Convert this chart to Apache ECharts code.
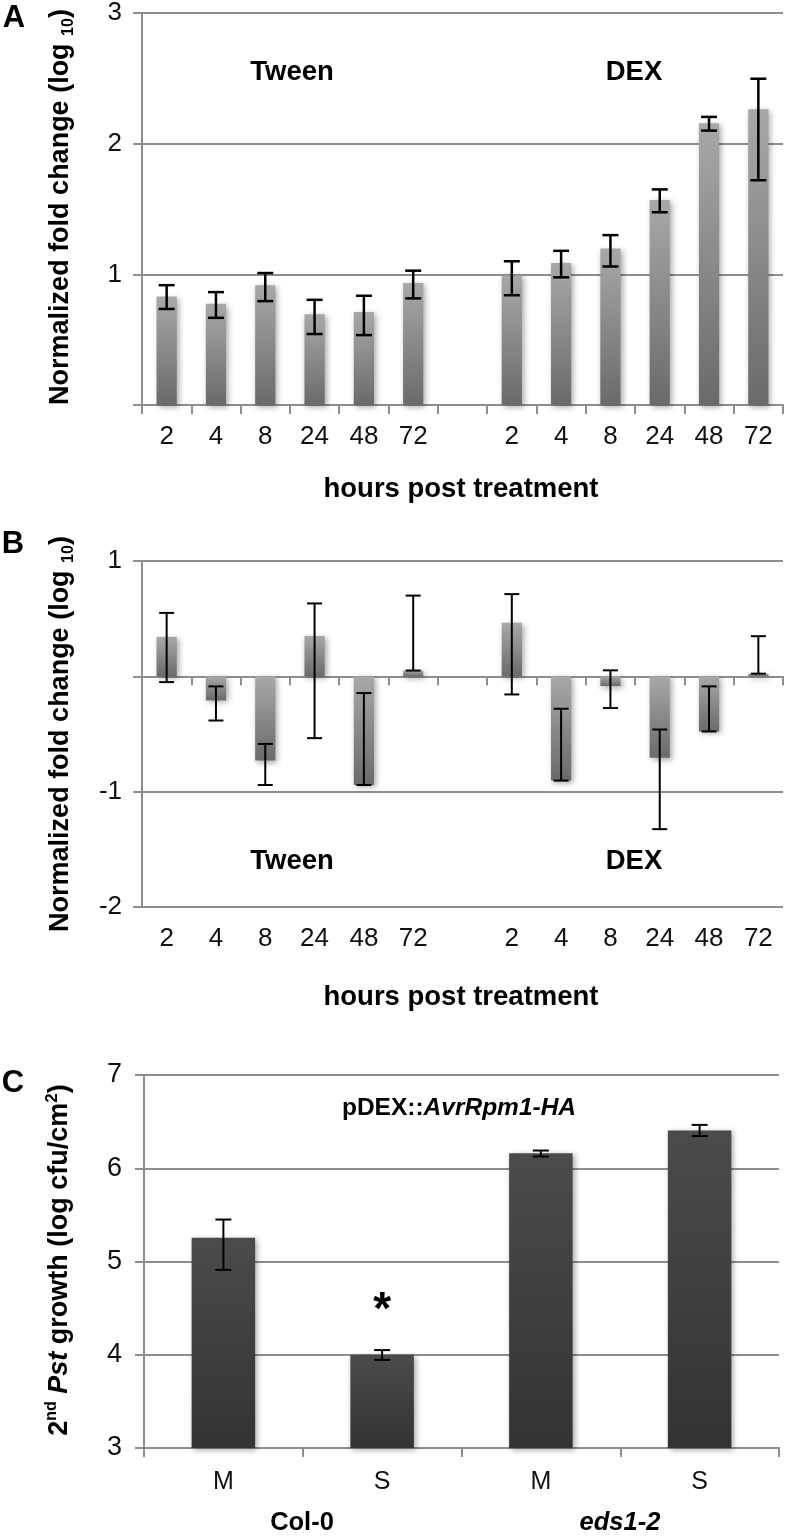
<!DOCTYPE html>
<html><head><meta charset="utf-8">
<script src="https://cdn.jsdelivr.net/npm/echarts@6/dist/echarts.min.js"></script>
<style>html,body{margin:0;padding:0;background:#fff}#c{width:789px;height:1536px}</style>
</head><body><div id="c"></div>
<script>
// ---------- data ----------
const hoursCats = ['2','4','8','24','48','72','','2','4','8','24','48','72'];
const treatmentGroups = ['Tween','DEX'];

// Panel A
const aValues = [0.83, 0.775, 0.917, 0.695, 0.712, 0.934, null, 0.992, 1.086, 1.197, 1.568, 2.157, 2.263];
const aErrLow  = [0.735, 0.667, 0.795, 0.543, 0.535, 0.816, null, 0.84, 0.977, 1.06, 1.475, 2.10, 1.72];
const aErrHigh = [0.917, 0.864, 1.01, 0.805, 0.836, 1.028, null, 1.10, 1.18, 1.30, 1.65, 2.205, 2.497];
const aTicks = [0, 1, 2, 3];

// Panel B
const bValues = [0.342, -0.209, -0.73, 0.35, -0.942, 0.05, null, 0.464, -0.904, -0.084, -0.707, -0.478, 0.023];
const bErrLow  = [-0.05, -0.383, -0.942, -0.536, -0.942, 0.05, null, -0.157, -0.904, -0.275, -1.325, -0.478, 0.023];
const bErrHigh = [0.55, -0.087, -0.586, 0.632, -0.145, 0.70, null, 0.713, -0.281, 0.052, -0.461, -0.087, 0.348];
const bTicks = [-2, -1, 0, 1];

// Panel C
const cCats = ['M','S','M','S'];
const cGenotypes = ['Col-0','eds1-2'];
const cValues = [5.255, 4.0, 6.16, 6.405];
const cErrLow  = [4.91, 3.945, 6.126, 6.345];
const cErrHigh = [5.45, 4.05, 6.19, 6.465];
const cSig = ['', '*', '', ''];
const cTicks = [3, 4, 5, 6, 7];

// ---------- styles ----------
const AX = '#8e8e8e';
const SANS = "'Liberation Sans', Arial, Helvetica, sans-serif";

function errData(lo, hi) {
  return lo.map((l, i) => (l == null ? null : [i, l, hi[i]])).filter(d => d);
}
function errRender(lw, hw) {
  return function (params, api) {
    const x = api.value(0), lo = api.value(1), hi = api.value(2);
    const pLo = api.coord([x, lo]), pHi = api.coord([x, hi]);
    const st = { stroke: '#000', lineWidth: lw };
    return { type: 'group', children: [
      { type: 'line', shape: { x1: pLo[0], y1: pLo[1], x2: pHi[0], y2: pHi[1] }, style: st },
      { type: 'line', shape: { x1: pLo[0] - hw, y1: pLo[1], x2: pLo[0] + hw, y2: pLo[1] }, style: st },
      { type: 'line', shape: { x1: pHi[0] - hw, y1: pHi[1], x2: pHi[0] + hw, y2: pHi[1] }, style: st }
    ]};
  };
}
const greyGrad = () => new echarts.graphic.LinearGradient(0, 0, 0, 1, [
  { offset: 0, color: '#a8a8a8' }, { offset: 1, color: '#6a6a6a' }]);
const darkGrad = () => new echarts.graphic.LinearGradient(0, 0, 0, 1, [
  { offset: 0, color: '#4b4b4b' }, { offset: 1, color: '#333333' }]);

function valueAxis(grid, ticks, hideZero, size, margin) {
  return {
    gridIndex: grid, type: 'value', min: ticks[0], max: ticks[ticks.length - 1], interval: 1,
    axisLine: { show: true, lineStyle: { color: AX, width: 2 } },
    axisTick: { show: true, length: 9, lineStyle: { color: AX, width: 2 } },
    splitLine: { show: true, lineStyle: { color: AX, width: 2 } },
    axisLabel: { margin: margin, color: '#111', fontSize: size, fontFamily: SANS,
      formatter: v => (hideZero && v === 0 ? '' : String(v)) }
  };
}
function catAxis(grid, data, opts) {
  return Object.assign({
    gridIndex: grid, type: 'category', data: data, position: 'bottom',
    axisLine: { show: true, onZero: false, lineStyle: { color: AX, width: 2 } },
    axisTick: { show: true, interval: 0, length: 9, lineStyle: { color: AX, width: 2 } },
    axisLabel: { show: true, interval: 0, margin: 19, color: '#111', fontSize: 26, fontFamily: SANS },
    splitLine: { show: false }
  }, opts);
}

const shadow = { shadowBlur: 6, shadowOffsetX: 2, shadowOffsetY: 2, shadowColor: 'rgba(0,0,0,0.35)' };
const T = (x, y, text, size, extra) => ({ type: 'text', x: x, y: y,
  style: Object.assign({ text: text, fontSize: size, fontWeight: 'bold', fontFamily: SANS, fill: '#000',
    align: 'center', verticalAlign: 'middle' }, extra || {}) });
const yTitleRich = {
  m: { fontSize: 27, fontWeight: 'bold', fontFamily: SANS, fill: '#000', lineHeight: 32, verticalAlign: 'middle' },
  s: { fontSize: 16, fontWeight: 'bold', fontFamily: SANS, fill: '#000', lineHeight: 16, verticalAlign: 'bottom' }
};

const option = {
  animation: false,
  backgroundColor: '#fff',
  grid: [
    { left: 142, top: 9, width: 641, height: 396 },
    { left: 142, top: 561, width: 641, height: 346 },
    { left: 144, top: 1075, width: 635, height: 373 }
  ],
  xAxis: [
    catAxis(0, hoursCats, {}),
    catAxis(1, hoursCats, { axisLine: { show: true, onZero: true, lineStyle: { color: AX, width: 2 } }, axisLabel: { show: false } }),
    catAxis(1, hoursCats, { axisLine: { show: false, onZero: false }, axisTick: { show: false } }),
    catAxis(2, cCats, { axisLabel: { show: true, interval: 0, margin: 22, color: '#111', fontSize: 25, fontFamily: SANS } })
  ],
  yAxis: [
    valueAxis(0, aTicks, true, 26, 20),
    valueAxis(1, bTicks, true, 26, 20),
    valueAxis(2, cTicks, false, 27, 22)
  ],
  series: [
    { type: 'bar', xAxisIndex: 0, yAxisIndex: 0, data: aValues, barWidth: '41%',
      itemStyle: Object.assign({ color: greyGrad() }, shadow) },
    { type: 'custom', xAxisIndex: 0, yAxisIndex: 0, data: errData(aErrLow, aErrHigh),
      encode: { x: 0, y: [1, 2] }, renderItem: errRender(2.5, 8), z: 5 },
    { type: 'bar', xAxisIndex: 1, yAxisIndex: 1, data: bValues, barWidth: '41%',
      itemStyle: Object.assign({ color: greyGrad() }, shadow) },
    { type: 'custom', xAxisIndex: 1, yAxisIndex: 1, data: errData(bErrLow, bErrHigh),
      encode: { x: 0, y: [1, 2] }, renderItem: errRender(2, 7.5), z: 5 },
    { type: 'bar', xAxisIndex: 3, yAxisIndex: 2, data: cValues, barWidth: '40%',
      itemStyle: Object.assign({ color: darkGrad() }, shadow),
      label: { show: true, position: 'top', distance: 20, color: '#000', fontSize: 46, fontWeight: 'bold',
        fontFamily: SANS, formatter: p => cSig[p.dataIndex] } },
    { type: 'custom', xAxisIndex: 3, yAxisIndex: 2, data: errData(cErrLow, cErrHigh),
      encode: { x: 0, y: [1, 2] }, renderItem: errRender(2, 8), z: 5 }
  ],
  graphic: [
    // panel letters
    T(14, 18, 'A', 31), T(13, 544, 'B', 31), T(13, 1083, 'C', 31),
    // treatment group labels
    T(292, 72, treatmentGroups[0], 27.5), T(634, 72, treatmentGroups[1], 27.5),
    T(292, 861, treatmentGroups[0], 27.5), T(634, 861, treatmentGroups[1], 27.5),
    // x-axis titles
    T(461, 489, 'hours post treatment', 27.5), T(461, 997, 'hours post treatment', 27.5),
    // y-axis titles
    { type: 'text', x: 61, y: 207, rotation: Math.PI / 2, style: {
        text: '{m|Normalized fold change (log }{s|10}{m|)}', align: 'center', verticalAlign: 'middle', rich: yTitleRich } },
    { type: 'text', x: 61, y: 734, rotation: Math.PI / 2, style: {
        text: '{m|Normalized fold change (log }{s|10}{m|)}', align: 'center', verticalAlign: 'middle', rich: yTitleRich } },
    { type: 'text', x: 60, y: 1260, rotation: Math.PI / 2, style: {
        text: '{m|2}{p|nd}{m| }{i|Pst}{m| growth (log cfu/cm}{q|2}{m|)}', align: 'center', verticalAlign: 'middle',
        rich: { m: { fontSize: 27, fontWeight: 'bold', fontFamily: SANS, fill: '#000', lineHeight: 32, verticalAlign: 'middle' },
                i: { fontSize: 27, fontWeight: 'bold', fontStyle: 'italic', fontFamily: SANS, fill: '#000', lineHeight: 32, verticalAlign: 'middle' },
                p: { fontSize: 16, fontWeight: 'bold', fontFamily: SANS, fill: '#000', lineHeight: 16, verticalAlign: 'top' },
                q: { fontSize: 17, fontWeight: 'bold', fontFamily: SANS, fill: '#000', lineHeight: 16, verticalAlign: 'top' } } } },
    // panel C title
    { type: 'text', x: 459, y: 1108, style: {
        text: '{b|pDEX::}{i|AvrRpm1-HA}', align: 'center', verticalAlign: 'middle',
        rich: { b: { fontSize: 24.5, fontWeight: 'bold', fontFamily: SANS, fill: '#000' },
                i: { fontSize: 24.5, fontWeight: 'bold', fontStyle: 'italic', fontFamily: SANS, fill: '#000' } } } },
    // genotype labels
    T(302, 1523, cGenotypes[0], 25.5), T(620, 1523, cGenotypes[1], 25.5, { fontStyle: 'italic' })
  ]
};

const chart = echarts.init(document.getElementById('c'), null, { renderer: 'canvas' });
chart.setOption(option);
</script>
</body></html>
